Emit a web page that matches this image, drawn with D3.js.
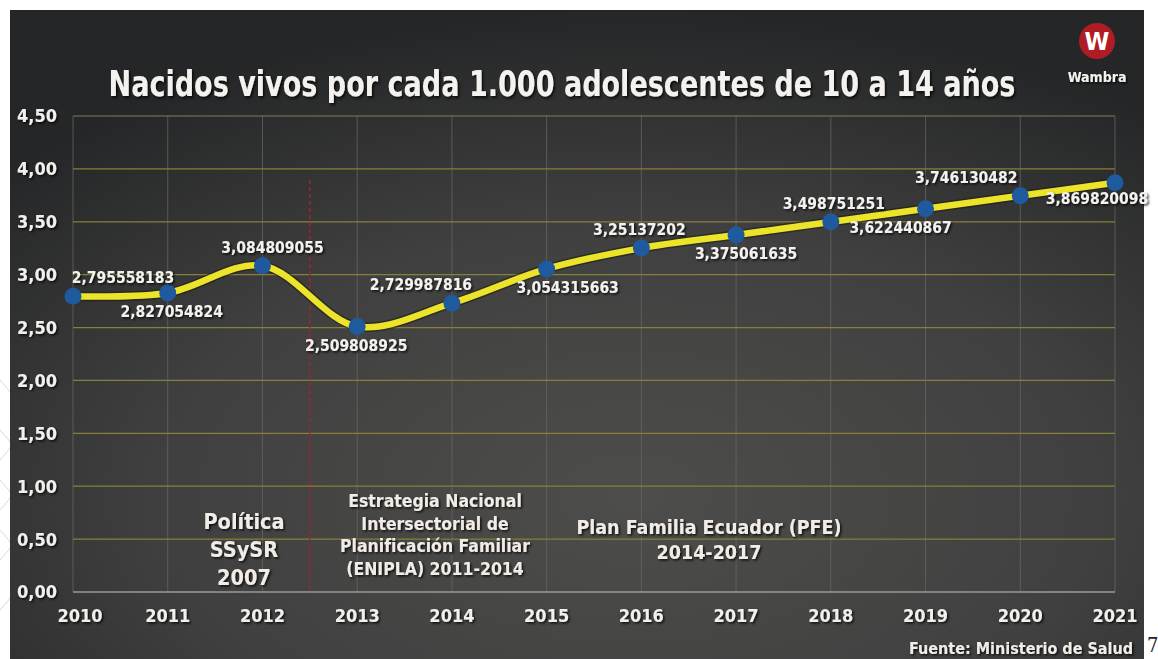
<!DOCTYPE html>
<html lang="es">
<head>
<meta charset="UTF-8">
<title>Nacidos vivos</title>
<script src="https://d3js.org/d3.v7.min.js"></script>
<style>
  body { margin: 0; background: #fff; }
  svg text { font-family: 'Liberation Sans Narrow', 'DejaVu Sans Condensed', 'Roboto', sans-serif; font-weight: bold; font-stretch: condensed; }
</style>
</head>
<body>
<div class="box"></div>
<script>
  // data
  let years = ['2010','2011','2012','2013','2014','2015','2016','2017','2018','2019','2020','2021']
  let values = [2.795558183, 2.827054824, 3.084809055, 2.509808925, 2.729987816, 3.054315663,
                3.25137202, 3.375061635, 3.498751251, 3.622440867, 3.746130482, 3.869820098]
  let valueLabels = ['2,795558183','2,827054824','3,084809055','2,509808925','2,729987816','3,054315663',
                     '3,25137202','3,375061635','3,498751251','3,622440867','3,746130482','3,869820098']
  let yTicks = [0, 0.5, 1, 1.5, 2, 2.5, 3, 3.5, 4, 4.5]
  let yTickLabels = ['0,00','0,50','1,00','1,50','2,00','2,50','3,00','3,50','4,00','4,50']

  let width = 1158
  let height = 659
  let plot = { left: 73, right: 1115, top: 116, bottom: 592 }

  // label placement (style only): side and horizontal nudge
  let labelSide = ['up','down','up','down','up','down','up','down','up','down','up','down']
  let labelDx = [50, 4, 10, -1, -31, 21, -2, 10, 3, -25, -54, -18]

  let svg = d3.select('.box').append('svg').attr('width', width).attr('height', height)
  let defs = svg.append('defs')

  let bg = defs.append('radialGradient').attr('id', 'bg')
    .attr('cx', '55%').attr('cy', '75%').attr('r', '75%')
  bg.append('stop').attr('offset', '0%').attr('stop-color', '#4d4d4b')
  bg.append('stop').attr('offset', '55%').attr('stop-color', '#404040')
  bg.append('stop').attr('offset', '100%').attr('stop-color', '#252627')

  let sh = defs.append('filter').attr('id', 'shadow').attr('x', '-10%').attr('y', '-20%').attr('width', '130%').attr('height', '150%')
  sh.append('feDropShadow').attr('dx', 1.5).attr('dy', 1.5).attr('stdDeviation', 1.2)
    .attr('flood-color', '#000').attr('flood-opacity', 0.8)

  // decorative arcs on the white margin
  let arcs = svg.append('g').attr('fill', 'none').attr('stroke', '#d8d8d8').attr('stroke-width', 1)
  ;[420, 470, 520, 570].forEach(cy => {
    arcs.append('path').attr('d', `M0,${cy + 40} Q40,${cy} 0,${cy - 40}`)
  })

  svg.append('rect').attr('x', 10).attr('y', 10).attr('width', 1134).attr('height', 649).attr('fill', 'url(#bg)')

  let x = d3.scalePoint().domain(years).range([plot.left, plot.right])
  let y = d3.scaleLinear().domain([0, 4.5]).range([plot.bottom, plot.top])

  // grid
  svg.append('g').selectAll('line').data(years).join('line')
    .attr('x1', d => x(d)).attr('x2', d => x(d))
    .attr('y1', plot.top).attr('y2', plot.bottom)
    .attr('stroke', '#6a6a66').attr('stroke-width', 1).attr('opacity', 0.7)

  svg.append('g').selectAll('line').data(yTicks).join('line')
    .attr('x1', plot.left).attr('x2', plot.right)
    .attr('y1', d => y(d)).attr('y2', d => y(d))
    .attr('stroke', d => d === 0 ? '#9a9a98' : (d === 4.5 ? '#807c5c' : '#878039'))
    .attr('stroke-width', d => d === 0 ? 1.5 : 1.2)

  // red dashed separator between 2012 and 2013
  let sepX = (x('2012') + x('2013')) / 2
  svg.append('line').attr('x1', sepX).attr('x2', sepX).attr('y1', 180).attr('y2', plot.bottom)
    .attr('stroke', '#a8232b').attr('stroke-width', 1.5).attr('stroke-dasharray', '4,3')

  // y tick labels
  svg.append('g').selectAll('text').data(yTicks).join('text')
    .attr('x', 17).attr('y', d => y(d)).attr('dy', '0.36em')
    .attr('fill', '#f2f0ec').attr('font-size', 18).attr('filter', 'url(#shadow)')
    .text((d, i) => yTickLabels[i])

  // x tick labels
  svg.append('g').selectAll('text').data(years).join('text')
    .attr('x', (d, i) => x(d) + (i === 0 ? 7 : 0)).attr('y', 622)
    .attr('text-anchor', 'middle')
    .attr('fill', '#f2f0ec').attr('font-size', 18).attr('filter', 'url(#shadow)')
    .text(d => d)

  // title, sized to span about 907px, stretched a little taller like the original
  let title = svg.append('text').attr('x', 0).attr('y', 0).attr('text-anchor', 'middle')
    .attr('transform', 'translate(562,96) scale(1,1.2)')
    .attr('fill', '#f4f2ee').attr('font-size', 33).attr('filter', 'url(#shadow)')
    .text('Nacidos vivos por cada 1.000 adolescentes de 10 a 14 años')
  let tw = title.node().getComputedTextLength()
  title.attr('font-size', Math.min(36, 33 * 907 / tw))

  // line
  let pts = years.map((d, i) => [x(d), y(values[i])])
  let line = d3.line().curve(d3.curveCatmullRom.alpha(0.5))
  svg.append('path').attr('d', line(pts)).attr('fill', 'none')
    .attr('stroke', '#1c1c10').attr('stroke-width', 9.5).attr('opacity', 0.55)
  svg.append('path').attr('d', line(pts)).attr('fill', 'none')
    .attr('stroke', '#ece42a').attr('stroke-width', 6.5)

  svg.append('g').selectAll('circle').data(values).join('circle')
    .attr('cx', (d, i) => x(years[i])).attr('cy', d => y(d)).attr('r', 8.5)
    .attr('fill', '#1f5a9e')

  // value labels
  svg.append('g').selectAll('text').data(values).join('text')
    .attr('x', (d, i) => x(years[i]) + labelDx[i])
    .attr('y', (d, i) => y(d) + (labelSide[i] === 'up' ? -13 : (i === 11 ? 21 : 24)))
    .attr('text-anchor', 'middle')
    .attr('fill', '#f4f2ee').attr('font-size', 15.5).attr('filter', 'url(#shadow)')
    .text((d, i) => valueLabels[i])

  // annotations
  function block (lines, cx, y0, step, size) {
    let t = svg.append('text').attr('text-anchor', 'middle')
      .attr('fill', '#f1ece6').attr('font-size', size).attr('filter', 'url(#shadow)')
    lines.forEach((s, i) => t.append('tspan').attr('x', cx).attr('y', y0 + i * step).text(s))
  }
  block(['Política', 'SSySR', '2007'], 244, 529, 28, 21.5)
  block(['Estrategia Nacional', 'Intersectorial de', 'Planificación Familiar', '(ENIPLA) 2011-2014'], 435, 507, 22.5, 17.5)
  block(['Plan Familia Ecuador (PFE)', '2014-2017'], 709, 534, 24.5, 19.5)

  // source
  svg.append('text').attr('x', 1133).attr('y', 654).attr('text-anchor', 'end')
    .attr('fill', '#f1ece6').attr('font-size', 16).attr('filter', 'url(#shadow)')
    .text('Fuente: Ministerio de Salud')
  svg.append('text').attr('x', 1147).attr('y', 652)
    .attr('fill', '#222').attr('font-size', 20)
    .style('font-family', 'DejaVu Serif, serif').style('font-weight', 'normal')
    .text('7')

  // logo
  svg.append('circle').attr('cx', 1097).attr('cy', 41).attr('r', 18).attr('fill', '#b01c24')
  svg.append('text').attr('x', 1097).attr('y', 50).attr('text-anchor', 'middle')
    .attr('fill', '#fff').attr('font-size', 25).text('W')
  svg.append('text').attr('x', 1097).attr('y', 82).attr('text-anchor', 'middle')
    .attr('fill', '#f4f2ee').attr('font-size', 14).attr('filter', 'url(#shadow)').text('Wambra')
</script>
</body>
</html>
